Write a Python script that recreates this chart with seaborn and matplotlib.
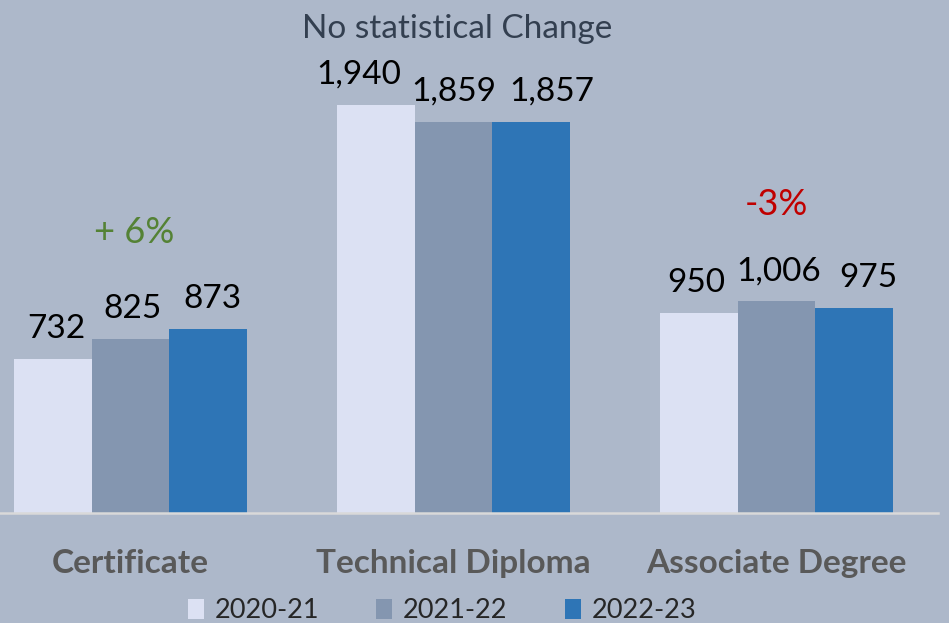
import numpy as np
import pandas as pd
import seaborn as sns
import matplotlib.pyplot as plt
from matplotlib.patches import Patch

categories = ["Certificate", "Technical Diploma", "Associate Degree"]
years = ["2020-21", "2021-22", "2022-23"]
v2020 = [732, 1940, 950]
v2021 = [825, 1859, 1006]
v2022 = [873, 1857, 975]

colors = ["#DCE1F3", "#8496B0", "#2E75B6"]
bg = "#ADB8CA"

rows = []
for yr, vals in zip(years, [v2020, v2021, v2022]):
    for c, v in zip(categories, vals):
        rows.append([c, yr, v])
df = pd.DataFrame(rows, columns=["Credential", "Year", "Count"])

sns.set_theme(style="white")
plt.rcParams["font.family"] = ["Lato", "DejaVu Sans"]

fig = plt.figure(figsize=(9.49, 6.23), dpi=100, facecolor=bg)
ax = fig.add_axes([-31 / 949, 110 / 623, 969 / 949, 505 / 623])
ax.set_facecolor(bg)

sns.barplot(data=df, x="Credential", y="Count", hue="Year", order=categories,
            hue_order=years, palette=colors, width=0.72, gap=0, saturation=1,
            errorbar=None, ax=ax, legend=False, linewidth=0, edgecolor="none")

# labels nudged sideways like the original (Excel moves overlapping labels)
nudge = [[3, -17, -3], [2, 0, 2], [4, 21, 14]]
for cont, dx in zip(ax.containers, nudge):
    anns = ax.bar_label(cont, labels=[f"{v:,.0f}" for v in cont.datavalues],
                        padding=11, fontsize=24, color="black")
    for a, d in zip(anns, dx):
        x0, y0 = a.xyann
        a.xyann = (x0 + d * 0.72, y0)

ax.set_xlim(-0.5, 2.5)
ax.set_ylim(0, 2400)
ax.set_yticks([])
ax.set_xlabel("")
ax.set_ylabel("")
for s in ["top", "left", "right"]:
    ax.spines[s].set_visible(False)
ax.spines["bottom"].set_color("#D9D9D9")
ax.spines["bottom"].set_linewidth(1.8)

ax.set_xticks([0, 1, 2])
ax.set_xticklabels(categories, fontsize=24, fontweight="bold", color="#595959")
ax.tick_params(axis="x", which="major", length=0, pad=26)
ax.set_xticks([-0.5, 0.5, 1.5, 2.5], minor=True)
ax.tick_params(axis="x", which="minor", length=10, width=1.8, color="#D9D9D9",
               direction="out")

ax.text(1.01, 2300, "No statistical Change", ha="center", va="center",
        fontsize=24, color="#333F50")
ax.text(0.01, 1331, "+ 6%", ha="center", va="center", fontsize=26,
        color="#548235")
ax.text(2.0, 1465, "-3%", ha="center", va="center", fontsize=26,
        color="#C00000")

handles = [Patch(facecolor=c, edgecolor="none") for c in colors]
fig.legend(handles, years, loc="center", bbox_to_anchor=(442 / 949, 1 - 611 / 623),
           ncol=3, frameon=False, fontsize=19.5, handlelength=0.6, handleheight=0.8,
           handletextpad=0.4, columnspacing=2.1, borderpad=0)

fig.savefig("out.png", dpi=100, facecolor=bg)
